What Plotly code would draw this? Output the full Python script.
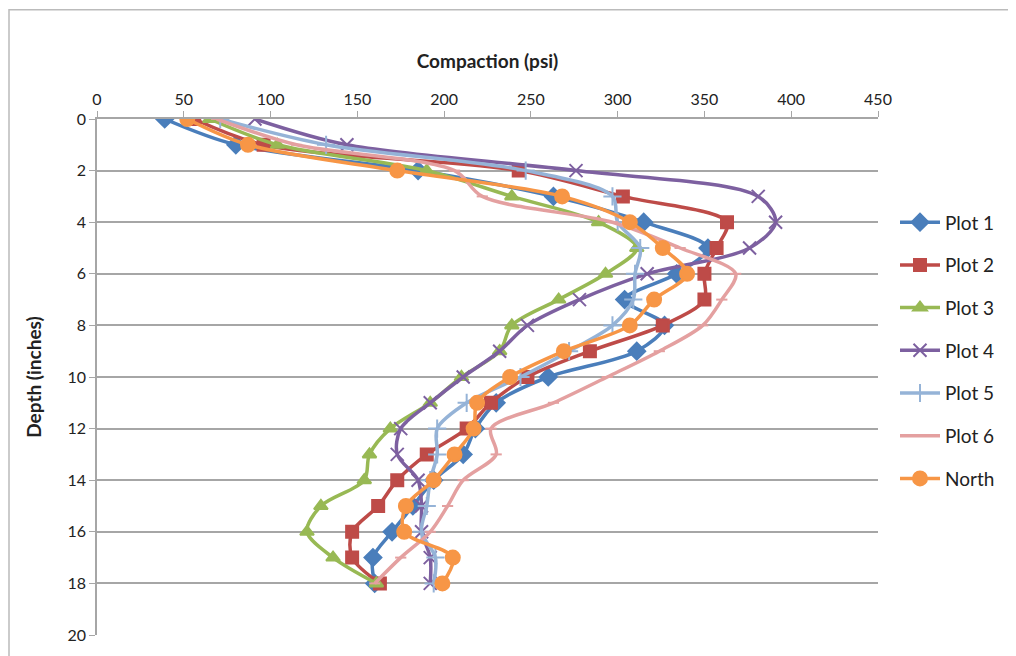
import plotly.graph_objects as go

depth = list(range(0, 19))

plot1 = [39, 80, 185, 263, 315, 352, 334, 304, 327, 311, 260, 230, 218, 211, 194, 182, 170, 159, 160]
plot2 = [56, 96, 243, 303, 363, 357, 350, 350, 326, 284, 248, 227, 213, 190, 173, 162, 147, 147, 163]
plot3 = [65, 104, 190, 239, 289, 311, 293, 266, 239, 232, 210, 192, 169, 157, 154, 129, 121, 136, 161]
plot4 = [91, 144, 276, 381, 391, 376, 317, 278, 248, 232, 211, 192, 175, 173, 185, 187, 187, 192, 192]
plot5 = [71, 132, 247, 297, 300, 313, 310, 309, 297, 272, 244, 213, 196, 196, 192, 190, 187, 195, 194]
plot6 = [69, 115, 206, 222, 297, 336, 368, 360, 349, 324, 294, 263, 227, 230, 211, 202, 192, 175, 160]
north = [52, 87, 173, 268, 307, 326, 340, 321, 307, 269, 238, 219, 217, 206, 194, 178, 177, 205, 199]

names = ["Plot 1", "Plot 2", "Plot 3", "Plot 4", "Plot 5", "Plot 6", "North"]
series = [plot1, plot2, plot3, plot4, plot5, plot6, north]
colors = ["#4A7EBB", "#BE4B48", "#98B954", "#7D60A0", "#95B3D7", "#E4A0A0", "#F79646"]
symbols = ["diamond", "square", "triangle-up", "x-thin-open", "cross-thin-open", "line-ew-open", "circle"]
sizes = [13, 12, 12, 13, 13, 8, 14]

fig = go.Figure()
for i, (nm, vals) in enumerate(zip(names, series)):
    fig.add_trace(go.Scatter(
        x=vals, y=depth, name=nm, mode="lines+markers",
        legendgroup=nm,
        line=dict(color=colors[i], width=3.5, shape="spline", smoothing=0.9),
        marker=dict(symbol=symbols[i], size=sizes[i], color=colors[i],
                    line=dict(color=colors[i], width=2)),
    ))

# page has an 8px body margin; figure coords = screen coords - 8
OFF = 8
W, H = 1008, 648
L, T = 97 - OFF, 119 - OFF
R = W - (878 - OFF)
B = H - (639 - OFF)
pw, ph = W - L - R, H - T - B


def px(x_screen):
    return (x_screen - OFF - L) / pw


def py(y_screen):
    return 1 - (y_screen - OFF - T) / ph


fig.add_shape(type="rect", xref="paper", yref="paper",
              x0=px(OFF + 1), x1=px(1040), y0=py(OFF + 1), y1=py(700),
              line=dict(color="#BBBBBB", width=1.5), fillcolor="rgba(0,0,0,0)", layer="below")

font_family = "Lato, 'Open Sans', sans-serif"
fig.update_layout(
    width=W, height=H,
    margin=dict(l=L, r=R, t=T, b=B),
    paper_bgcolor="white", plot_bgcolor="white",
    font=dict(family=font_family, color="#222222", size=16),
    xaxis=dict(
        side="top", range=[0, 450], dtick=50, tick0=0,
        showgrid=False, showline=True, linecolor="#A6A6A6", linewidth=1.5,
        ticks="outside", ticklen=6, tickcolor="#A6A6A6",
        zeroline=False,
        title=dict(text="<b>Compaction (psi)</b>", font=dict(size=19), standoff=15),
        tickfont=dict(size=16),
    ),
    yaxis=dict(
        range=[20, 0], dtick=2, tick0=0,
        showgrid=True, gridcolor="#A6A6A6", gridwidth=1.5,
        showline=True, linecolor="#A6A6A6", linewidth=1.5,
        ticks="outside", ticklen=6, tickcolor="#A6A6A6",
        zeroline=False,
        title=dict(text="<b>Depth (inches)</b>", font=dict(size=19), standoff=21),
        tickfont=dict(size=16),
    ),
    legend=dict(
        x=px(895), y=py(204), xanchor="left", yanchor="top",
        font=dict(size=19), tracegroupgap=15, itemwidth=40,
        bgcolor="rgba(0,0,0,0)",
    ),
)

fig.write_html("out.html")
